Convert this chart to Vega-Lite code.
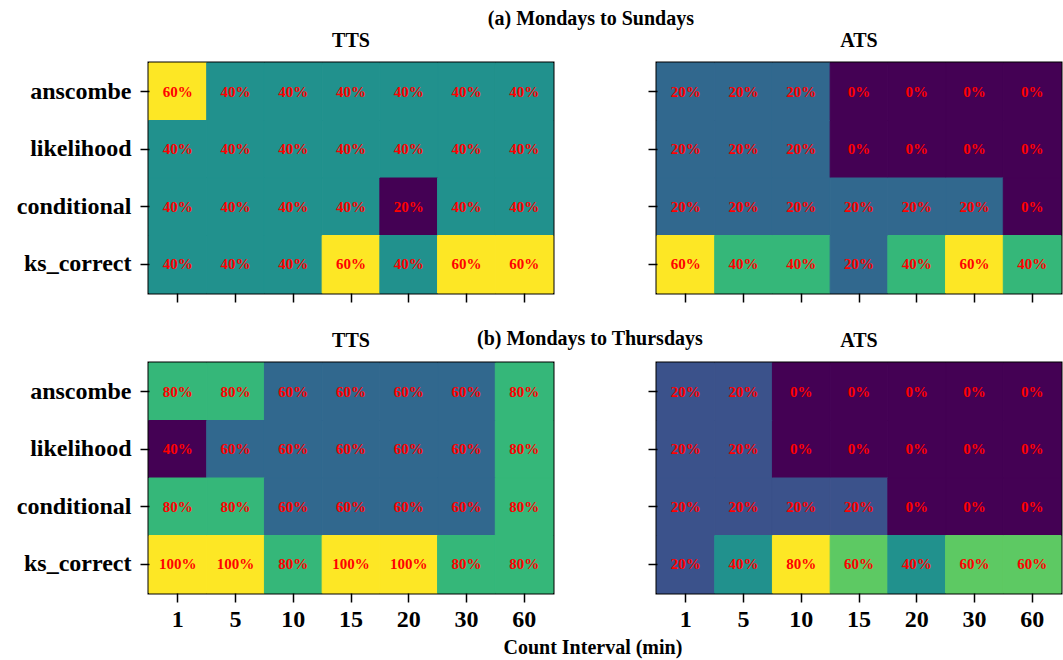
{
  "$schema": "https://vega.github.io/schema/vega-lite/v6.json",
  "background": "white",
  "padding": {"left": 14, "top": 9, "right": 2, "bottom": 2},
  "datasets": {
    "cells": [
      {"p":"a","m":"TTS","r":"anscombe","i":1,"v":0.6},{"p":"a","m":"TTS","r":"anscombe","i":5,"v":0.4},{"p":"a","m":"TTS","r":"anscombe","i":10,"v":0.4},{"p":"a","m":"TTS","r":"anscombe","i":15,"v":0.4},{"p":"a","m":"TTS","r":"anscombe","i":20,"v":0.4},{"p":"a","m":"TTS","r":"anscombe","i":30,"v":0.4},{"p":"a","m":"TTS","r":"anscombe","i":60,"v":0.4},
      {"p":"a","m":"TTS","r":"likelihood","i":1,"v":0.4},{"p":"a","m":"TTS","r":"likelihood","i":5,"v":0.4},{"p":"a","m":"TTS","r":"likelihood","i":10,"v":0.4},{"p":"a","m":"TTS","r":"likelihood","i":15,"v":0.4},{"p":"a","m":"TTS","r":"likelihood","i":20,"v":0.4},{"p":"a","m":"TTS","r":"likelihood","i":30,"v":0.4},{"p":"a","m":"TTS","r":"likelihood","i":60,"v":0.4},
      {"p":"a","m":"TTS","r":"conditional","i":1,"v":0.4},{"p":"a","m":"TTS","r":"conditional","i":5,"v":0.4},{"p":"a","m":"TTS","r":"conditional","i":10,"v":0.4},{"p":"a","m":"TTS","r":"conditional","i":15,"v":0.4},{"p":"a","m":"TTS","r":"conditional","i":20,"v":0.2},{"p":"a","m":"TTS","r":"conditional","i":30,"v":0.4},{"p":"a","m":"TTS","r":"conditional","i":60,"v":0.4},
      {"p":"a","m":"TTS","r":"ks_correct","i":1,"v":0.4},{"p":"a","m":"TTS","r":"ks_correct","i":5,"v":0.4},{"p":"a","m":"TTS","r":"ks_correct","i":10,"v":0.4},{"p":"a","m":"TTS","r":"ks_correct","i":15,"v":0.6},{"p":"a","m":"TTS","r":"ks_correct","i":20,"v":0.4},{"p":"a","m":"TTS","r":"ks_correct","i":30,"v":0.6},{"p":"a","m":"TTS","r":"ks_correct","i":60,"v":0.6},

      {"p":"a","m":"ATS","r":"anscombe","i":1,"v":0.2},{"p":"a","m":"ATS","r":"anscombe","i":5,"v":0.2},{"p":"a","m":"ATS","r":"anscombe","i":10,"v":0.2},{"p":"a","m":"ATS","r":"anscombe","i":15,"v":0},{"p":"a","m":"ATS","r":"anscombe","i":20,"v":0},{"p":"a","m":"ATS","r":"anscombe","i":30,"v":0},{"p":"a","m":"ATS","r":"anscombe","i":60,"v":0},
      {"p":"a","m":"ATS","r":"likelihood","i":1,"v":0.2},{"p":"a","m":"ATS","r":"likelihood","i":5,"v":0.2},{"p":"a","m":"ATS","r":"likelihood","i":10,"v":0.2},{"p":"a","m":"ATS","r":"likelihood","i":15,"v":0},{"p":"a","m":"ATS","r":"likelihood","i":20,"v":0},{"p":"a","m":"ATS","r":"likelihood","i":30,"v":0},{"p":"a","m":"ATS","r":"likelihood","i":60,"v":0},
      {"p":"a","m":"ATS","r":"conditional","i":1,"v":0.2},{"p":"a","m":"ATS","r":"conditional","i":5,"v":0.2},{"p":"a","m":"ATS","r":"conditional","i":10,"v":0.2},{"p":"a","m":"ATS","r":"conditional","i":15,"v":0.2},{"p":"a","m":"ATS","r":"conditional","i":20,"v":0.2},{"p":"a","m":"ATS","r":"conditional","i":30,"v":0.2},{"p":"a","m":"ATS","r":"conditional","i":60,"v":0},
      {"p":"a","m":"ATS","r":"ks_correct","i":1,"v":0.6},{"p":"a","m":"ATS","r":"ks_correct","i":5,"v":0.4},{"p":"a","m":"ATS","r":"ks_correct","i":10,"v":0.4},{"p":"a","m":"ATS","r":"ks_correct","i":15,"v":0.2},{"p":"a","m":"ATS","r":"ks_correct","i":20,"v":0.4},{"p":"a","m":"ATS","r":"ks_correct","i":30,"v":0.6},{"p":"a","m":"ATS","r":"ks_correct","i":60,"v":0.4},

      {"p":"b","m":"TTS","r":"anscombe","i":1,"v":0.8},{"p":"b","m":"TTS","r":"anscombe","i":5,"v":0.8},{"p":"b","m":"TTS","r":"anscombe","i":10,"v":0.6},{"p":"b","m":"TTS","r":"anscombe","i":15,"v":0.6},{"p":"b","m":"TTS","r":"anscombe","i":20,"v":0.6},{"p":"b","m":"TTS","r":"anscombe","i":30,"v":0.6},{"p":"b","m":"TTS","r":"anscombe","i":60,"v":0.8},
      {"p":"b","m":"TTS","r":"likelihood","i":1,"v":0.4},{"p":"b","m":"TTS","r":"likelihood","i":5,"v":0.6},{"p":"b","m":"TTS","r":"likelihood","i":10,"v":0.6},{"p":"b","m":"TTS","r":"likelihood","i":15,"v":0.6},{"p":"b","m":"TTS","r":"likelihood","i":20,"v":0.6},{"p":"b","m":"TTS","r":"likelihood","i":30,"v":0.6},{"p":"b","m":"TTS","r":"likelihood","i":60,"v":0.8},
      {"p":"b","m":"TTS","r":"conditional","i":1,"v":0.8},{"p":"b","m":"TTS","r":"conditional","i":5,"v":0.8},{"p":"b","m":"TTS","r":"conditional","i":10,"v":0.6},{"p":"b","m":"TTS","r":"conditional","i":15,"v":0.6},{"p":"b","m":"TTS","r":"conditional","i":20,"v":0.6},{"p":"b","m":"TTS","r":"conditional","i":30,"v":0.6},{"p":"b","m":"TTS","r":"conditional","i":60,"v":0.8},
      {"p":"b","m":"TTS","r":"ks_correct","i":1,"v":1},{"p":"b","m":"TTS","r":"ks_correct","i":5,"v":1},{"p":"b","m":"TTS","r":"ks_correct","i":10,"v":0.8},{"p":"b","m":"TTS","r":"ks_correct","i":15,"v":1},{"p":"b","m":"TTS","r":"ks_correct","i":20,"v":1},{"p":"b","m":"TTS","r":"ks_correct","i":30,"v":0.8},{"p":"b","m":"TTS","r":"ks_correct","i":60,"v":0.8},

      {"p":"b","m":"ATS","r":"anscombe","i":1,"v":0.2},{"p":"b","m":"ATS","r":"anscombe","i":5,"v":0.2},{"p":"b","m":"ATS","r":"anscombe","i":10,"v":0},{"p":"b","m":"ATS","r":"anscombe","i":15,"v":0},{"p":"b","m":"ATS","r":"anscombe","i":20,"v":0},{"p":"b","m":"ATS","r":"anscombe","i":30,"v":0},{"p":"b","m":"ATS","r":"anscombe","i":60,"v":0},
      {"p":"b","m":"ATS","r":"likelihood","i":1,"v":0.2},{"p":"b","m":"ATS","r":"likelihood","i":5,"v":0.2},{"p":"b","m":"ATS","r":"likelihood","i":10,"v":0},{"p":"b","m":"ATS","r":"likelihood","i":15,"v":0},{"p":"b","m":"ATS","r":"likelihood","i":20,"v":0},{"p":"b","m":"ATS","r":"likelihood","i":30,"v":0},{"p":"b","m":"ATS","r":"likelihood","i":60,"v":0},
      {"p":"b","m":"ATS","r":"conditional","i":1,"v":0.2},{"p":"b","m":"ATS","r":"conditional","i":5,"v":0.2},{"p":"b","m":"ATS","r":"conditional","i":10,"v":0.2},{"p":"b","m":"ATS","r":"conditional","i":15,"v":0.2},{"p":"b","m":"ATS","r":"conditional","i":20,"v":0},{"p":"b","m":"ATS","r":"conditional","i":30,"v":0},{"p":"b","m":"ATS","r":"conditional","i":60,"v":0},
      {"p":"b","m":"ATS","r":"ks_correct","i":1,"v":0.2},{"p":"b","m":"ATS","r":"ks_correct","i":5,"v":0.4},{"p":"b","m":"ATS","r":"ks_correct","i":10,"v":0.8},{"p":"b","m":"ATS","r":"ks_correct","i":15,"v":0.6},{"p":"b","m":"ATS","r":"ks_correct","i":20,"v":0.4},{"p":"b","m":"ATS","r":"ks_correct","i":30,"v":0.6},{"p":"b","m":"ATS","r":"ks_correct","i":60,"v":0.6}
    ]
  },
  "data": {"name": "cells"},
  "title": {"text": "Count Interval (min)", "orient": "bottom", "anchor": "middle", "frame": "bounds", "dx": 54, "offset": 5, "fontSize": 20},
  "spacing": 24,
  "resolve": {"scale": {"color": "independent", "stroke": "independent", "x": "independent", "y": "independent"}},
  "vconcat": [
    {
      "title": {"text": "(a) Mondays to Sundays", "anchor": "middle", "frame": "bounds", "dx": 52, "offset": 0, "fontSize": 20},
      "spacing": 90,
      "resolve": {"scale": {"color": "independent", "stroke": "independent", "x": "independent", "y": "independent"}},
      "hconcat": [
        {
          "width": 404, "height": 230,
          "title": {"text": "TTS", "offset": 12, "fontSize": 20},
          "transform": [{"filter": "datum.p === 'a' && datum.m === 'TTS'"}],
          "encoding": {
            "x": {"field": "i", "type": "ordinal", "sort": [1,5,10,15,20,30,60], "axis": {"title": null, "labels": false, "bandPosition": 0.5}},
            "y": {"field": "r", "type": "nominal", "sort": ["anscombe","likelihood","conditional","ks_correct"], "axis": {"title": null, "bandPosition": 0.5}}
          },
          "layer": [
            {"mark": {"type": "rect", "strokeWidth": 1}, "encoding": {
              "color": {"field": "v", "type": "quantitative", "scale": {"scheme": "viridis", "domain": [0.2, 0.6]}, "legend": null},
              "stroke": {"field": "v", "type": "quantitative", "scale": {"scheme": "viridis", "domain": [0.2, 0.6]}, "legend": null}}},
            {"mark": {"type": "text", "color": "#ff0000", "fontSize": 15, "fontWeight": "bold", "font": "Liberation Serif"}, "encoding": {"text": {"field": "v", "type": "quantitative", "format": ".0%"}}}
          ]
        },
        {
          "width": 404, "height": 230,
          "title": {"text": "ATS", "offset": 12, "fontSize": 20},
          "transform": [{"filter": "datum.p === 'a' && datum.m === 'ATS'"}],
          "encoding": {
            "x": {"field": "i", "type": "ordinal", "sort": [1,5,10,15,20,30,60], "axis": {"title": null, "labels": false, "bandPosition": 0.5}},
            "y": {"field": "r", "type": "nominal", "sort": ["anscombe","likelihood","conditional","ks_correct"], "axis": {"title": null, "labels": false, "bandPosition": 0.5}}
          },
          "layer": [
            {"mark": {"type": "rect", "strokeWidth": 1}, "encoding": {
              "color": {"field": "v", "type": "quantitative", "scale": {"scheme": "viridis", "domain": [0, 0.6]}, "legend": null},
              "stroke": {"field": "v", "type": "quantitative", "scale": {"scheme": "viridis", "domain": [0, 0.6]}, "legend": null}}},
            {"mark": {"type": "text", "color": "#ff0000", "fontSize": 15, "fontWeight": "bold", "font": "Liberation Serif"}, "encoding": {"text": {"field": "v", "type": "quantitative", "format": ".0%"}}}
          ]
        }
      ]
    },
    {
      "title": {"text": "(b) Mondays to Thursdays", "anchor": "middle", "frame": "bounds", "dx": 51, "offset": -20, "fontSize": 20},
      "spacing": 90,
      "resolve": {"scale": {"color": "independent", "stroke": "independent", "x": "independent", "y": "independent"}},
      "hconcat": [
        {
          "width": 404, "height": 230,
          "title": {"text": "TTS", "offset": 12, "fontSize": 20},
          "transform": [{"filter": "datum.p === 'b' && datum.m === 'TTS'"}],
          "encoding": {
            "x": {"field": "i", "type": "ordinal", "sort": [1,5,10,15,20,30,60], "axis": {"title": null, "labelAngle": 0, "labelPadding": 5, "bandPosition": 0.5}},
            "y": {"field": "r", "type": "nominal", "sort": ["anscombe","likelihood","conditional","ks_correct"], "axis": {"title": null, "bandPosition": 0.5}}
          },
          "layer": [
            {"mark": {"type": "rect", "strokeWidth": 1}, "encoding": {
              "color": {"field": "v", "type": "quantitative", "scale": {"scheme": "viridis", "domain": [0.4, 1]}, "legend": null},
              "stroke": {"field": "v", "type": "quantitative", "scale": {"scheme": "viridis", "domain": [0.4, 1]}, "legend": null}}},
            {"mark": {"type": "text", "color": "#ff0000", "fontSize": 15, "fontWeight": "bold", "font": "Liberation Serif"}, "encoding": {"text": {"field": "v", "type": "quantitative", "format": ".0%"}}}
          ]
        },
        {
          "width": 404, "height": 230,
          "title": {"text": "ATS", "offset": 12, "fontSize": 20},
          "transform": [{"filter": "datum.p === 'b' && datum.m === 'ATS'"}],
          "encoding": {
            "x": {"field": "i", "type": "ordinal", "sort": [1,5,10,15,20,30,60], "axis": {"title": null, "labelAngle": 0, "labelPadding": 5, "bandPosition": 0.5}},
            "y": {"field": "r", "type": "nominal", "sort": ["anscombe","likelihood","conditional","ks_correct"], "axis": {"title": null, "labels": false, "bandPosition": 0.5}}
          },
          "layer": [
            {"mark": {"type": "rect", "strokeWidth": 1}, "encoding": {
              "color": {"field": "v", "type": "quantitative", "scale": {"scheme": "viridis", "domain": [0, 0.8]}, "legend": null},
              "stroke": {"field": "v", "type": "quantitative", "scale": {"scheme": "viridis", "domain": [0, 0.8]}, "legend": null}}},
            {"mark": {"type": "text", "color": "#ff0000", "fontSize": 15, "fontWeight": "bold", "font": "Liberation Serif"}, "encoding": {"text": {"field": "v", "type": "quantitative", "format": ".0%"}}}
          ]
        }
      ]
    }
  ],
  "config": {
    "font": "Liberation Serif",
    "view": {"stroke": "black", "strokeWidth": 3},
    "axis": {"domain": false, "grid": false, "ticks": true, "tickColor": "black", "tickWidth": 1.5, "tickSize": 9, "labelFont": "Liberation Serif", "labelFontWeight": "bold", "labelFontSize": 24, "labelColor": "black", "labelPadding": 9},
    "title": {"font": "Liberation Serif", "fontWeight": "bold", "fontSize": 20, "color": "black"}
  }
}
